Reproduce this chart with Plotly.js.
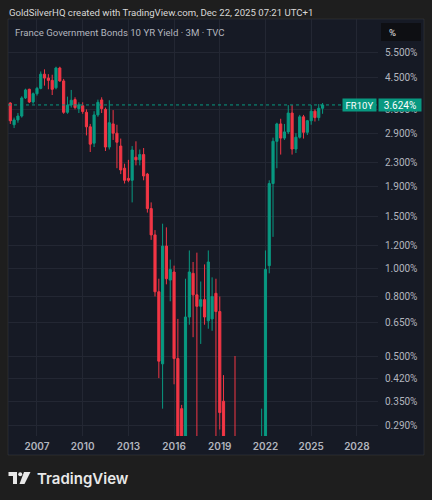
<!DOCTYPE html>
<html><head><meta charset="utf-8">
<script src="https://cdn.plot.ly/plotly-3.0.1.min.js"></script>
<style>html,body{margin:0;padding:0;background:#1e1e1e;overflow:hidden}#chart{width:432px;height:500px}</style>
</head><body><div id="chart"></div>
<script>
// ---- data (quarterly candles, % yield) ----
const quarters = [
'2005-04-01','2005-07-01','2005-10-01',
'2006-01-01','2006-04-01','2006-07-01','2006-10-01',
'2007-01-01','2007-04-01','2007-07-01','2007-10-01',
'2008-01-01','2008-04-01','2008-07-01','2008-10-01',
'2009-01-01','2009-04-01','2009-07-01','2009-10-01',
'2010-01-01','2010-04-01','2010-07-01','2010-10-01',
'2011-01-01','2011-04-01','2011-07-01','2011-10-01',
'2012-01-01','2012-04-01','2012-07-01','2012-10-01',
'2013-01-01','2013-04-01','2013-07-01','2013-10-01',
'2014-01-01','2014-04-01','2014-07-01','2014-10-01',
'2015-01-01','2015-04-01','2015-07-01','2015-10-01',
'2016-01-01','2016-04-01','2016-07-01','2016-10-01',
'2017-01-01','2017-04-01','2017-07-01','2017-10-01',
'2018-01-01','2018-04-01','2018-07-01','2018-10-01',
'2019-01-01','2019-04-01','2019-07-01','2019-10-01',
'2020-01-01','2020-04-01','2020-07-01','2020-10-01',
'2021-01-01','2021-04-01','2021-07-01','2021-10-01',
'2022-01-01','2022-04-01','2022-07-01','2022-10-01',
'2023-01-01','2023-04-01','2023-07-01','2023-10-01',
'2024-01-01','2024-04-01','2024-07-01','2024-10-01',
'2025-01-01','2025-04-01','2025-07-01','2025-10-01'];
const openV = [3.68,3.10,3.22, 3.32,3.83,4.10,3.71, 3.96,4.13,4.62,4.48, 4.40,4.15,4.85,4.38,
 3.42,3.62,3.78,3.52, 3.60,3.42,3.05,2.68, 3.35,3.77,3.50,2.60, 3.12,2.90,2.62,2.20,
 2.03,2.00,2.40,2.35, 2.45,2.10,1.60,1.30, 0.83,0.47,1.19,0.91, 0.97,0.49,0.33,0.19,
 0.68,0.96,0.81,0.74, 0.78,0.66,0.67,0.82, 0.71,0.35,-0.01,-0.28, 0.12,0.02,-0.11,-0.24,
 -0.34,-0.05,0.13,0.16, 0.20,1.02,1.95,2.72, 3.12,2.79,2.93,3.40, 2.56,2.81,3.30,2.92,
 3.20,3.45,3.28,3.53];
const highV = [3.70,3.28,3.40, 3.88,4.12,4.12,4.00, 4.18,4.72,4.80,4.62, 4.60,4.90,4.90,4.45,
 3.87,4.08,3.85,3.70, 3.70,3.50,3.12,3.45, 3.78,3.85,3.55,3.76, 3.48,3.10,2.78,2.28,
 2.35,2.62,2.72,2.55, 2.58,2.12,1.68,1.35, 0.92,1.42,1.38,1.07, 1.02,0.67,0.34,0.92,
 1.15,1.05,1.13,0.90, 1.03,1.15,0.93,0.92, 0.80,0.43,0.05,0.09, 0.50,0.24,0.00,-0.18,
 0.00,0.24,0.15,0.33, 1.15,2.00,2.80,3.15, 3.25,3.12,3.62,3.62, 2.90,3.35,3.35,3.22,
 3.62,3.50,3.65,3.68];
const lowV = [3.12,3.02,3.15, 3.28,3.80,3.68,3.66, 3.90,4.10,4.22,4.10, 3.92,4.10,4.35,3.38,
 3.38,3.55,3.50,3.40, 3.38,2.85,2.50,2.60, 3.30,3.40,2.52,2.55, 2.75,2.20,2.10,1.95,
 1.97,1.68,2.25,2.25, 2.00,1.55,1.25,0.80, 0.42,0.33,0.88,0.77, 0.40,0.10,0.05,0.10,
 0.64,0.58,0.10,0.55, 0.64,0.62,0.61,0.10, 0.28,-0.03,-0.45,-0.37, -0.38,-0.15,-0.30,-0.40,
 -0.39,-0.12,-0.17,-0.06, 0.12,0.96,1.28,2.20, 2.45,2.75,2.88,2.45, 2.48,2.78,2.78,2.86,
 3.10,3.18,3.20,3.38];
const closeV = [3.20,3.22,3.32, 3.83,4.08,3.71,3.96, 4.13,4.62,4.48,4.40, 4.10,4.85,4.38,3.42,
 3.62,3.76,3.55,3.63, 3.44,3.05,2.66,3.35, 3.70,3.52,2.60,3.15, 2.90,2.70,2.17,2.00,
 2.00,2.54,2.35,2.45, 2.07,1.60,1.30,0.83, 0.48,1.19,0.92,0.99, 0.49,0.18,0.19,0.68,
 0.97,0.81,0.74,0.78, 0.68,1.05,0.80,0.71, 0.32,-0.01,-0.28,0.12, 0.02,-0.11,-0.24,-0.34,
 -0.05,0.13,0.16,0.20, 0.99,1.95,2.72,3.12, 2.79,2.93,3.40,2.56, 2.81,3.30,2.92,3.20,
 3.45,3.28,3.53,3.624];
const yTickVals = [0.29,0.35,0.42,0.5,0.65,0.8,1.0,1.2,1.5,1.9,2.3,2.9,3.5,4.5,5.5];
const xTickYears = ['2007','2010','2013','2016','2019','2022','2025','2028'];
const symbol = 'FR10Y';
const headerText = 'GoldSilverHQ created with TradingView.com, Dec 22, 2025 07:21 UTC+1';
const titleText = 'France Government Bonds 10 YR Yield · 3M · TVC';
const unitText = '%';
const brandText = 'TradingView';

// ---- geometry helpers ----
const L = 8, R = 378, T = 19, B = 436;
const X = px => (px - L) / (R - L);
const Y = py => (B - py) / (B - T);
const P = (x, y) => X(x).toFixed(5) + ',' + Y(y).toFixed(5);
const logSafe = v => Math.max(v, 0.01); // log axis cannot show <= 0

const UP = '#089981', DOWN = '#f23645';
const FONT = 'Inter, "Noto Sans", sans-serif';
const FONT2 = 'Roboto, "Noto Sans", sans-serif';
const last = closeV[closeV.length - 1];

const trace = {
  type: 'candlestick', x: quarters,
  open: openV.map(logSafe), high: highV.map(logSafe),
  low: lowV.map(logSafe), close: closeV.map(logSafe),
  increasing: {line: {color: UP, width: 1}, fillcolor: UP},
  decreasing: {line: {color: DOWN, width: 1}, fillcolor: DOWN},
  whiskerwidth: 0, hoverinfo: 'skip', showlegend: false
};

const shapes = [
  {type: 'rect', xref: 'paper', yref: 'paper', x0: X(8), x1: X(424), y0: Y(455), y1: Y(19),
   fillcolor: '#161a25', line: {color: 'rgba(255,255,255,0.07)', width: 1}, layer: 'below'},
  {type: 'rect', xref: 'paper', yref: 'paper', x0: X(381), x1: X(421), y0: Y(41), y1: Y(23),
   fillcolor: '#0e0f13', line: {width: 0}, layer: 'above'},
  {type: 'line', xref: 'paper', yref: 'y', x0: 0, x1: 1, y0: last, y1: last,
   line: {color: UP, width: 1, dash: 'dot'}, layer: 'above'},
  // logo icon
  {type: 'path', xref: 'paper', yref: 'paper', layer: 'above', fillcolor: '#e8e8e8', line: {width: 0},
   path: 'M' + P(8.5, 472) + 'L' + P(17, 472) + 'L' + P(17, 484) + 'L' + P(13, 484) + 'L' + P(13, 476) + 'L' + P(8.5, 476) + 'Z'},
  {type: 'circle', xref: 'paper', yref: 'paper', layer: 'above', fillcolor: '#e8e8e8', line: {width: 0},
   x0: X(18.2), x1: X(22.2), y0: Y(476.2), y1: Y(472.2)},
  {type: 'path', xref: 'paper', yref: 'paper', layer: 'above', fillcolor: '#e8e8e8', line: {width: 0},
   path: 'M' + P(24, 472) + 'L' + P(30.5, 472) + 'L' + P(24.5, 484) + 'L' + P(19.5, 484) + 'Z'}
];

const annotations = [
  {xref: 'paper', yref: 'paper', x: X(7), y: Y(12), xanchor: 'left', yanchor: 'middle', showarrow: false,
   text: headerText, font: {family: FONT2, size: 9.6, color: '#d8d8d8'}},
  {xref: 'paper', yref: 'paper', x: X(13), y: Y(32), xanchor: 'left', yanchor: 'middle', showarrow: false,
   text: titleText, font: {family: FONT2, size: 9.6, color: '#b2b5be'}},
  {xref: 'paper', yref: 'paper', x: X(387), y: Y(32), xanchor: 'left', yanchor: 'middle', showarrow: false,
   text: unitText, font: {family: FONT2, size: 9.5, color: '#e0e0e0'}},
  {xref: 'paper', yref: 'paper', x: X(35), y: Y(478), xanchor: 'left', yanchor: 'middle', showarrow: false,
   text: brandText, font: {family: FONT, size: 15, color: '#e8e8e8', weight: 600}},
  {xref: 'paper', yref: 'y', x: 1, y: Math.log10(last), xanchor: 'right', yanchor: 'middle', xshift: -1,
   showarrow: false, text: symbol, width: 33, height: 12, borderpad: 0, bgcolor: UP,
   font: {family: FONT2, size: 9.5, color: '#ffffff'}},
  {xref: 'paper', yref: 'y', x: 1, y: Math.log10(last), xanchor: 'left', yanchor: 'middle',
   showarrow: false, text: last.toFixed(3) + '%', width: 42, height: 12, borderpad: 0, bgcolor: UP,
   font: {family: FONT2, size: 10, color: '#ffffff'}}
];

const layout = {
  width: 432, height: 500,
  margin: {l: L, r: 432 - R, t: T, b: 500 - B, pad: 0},
  paper_bgcolor: '#1e1e1e', plot_bgcolor: 'rgba(0,0,0,0)',
  showlegend: false, dragmode: false, boxgap: 0.18,
  xaxis: {
    type: 'date', range: ['2005-02-05', '2029-05-22'],
    tickvals: xTickYears.map(y => y + '-01-01'), ticktext: xTickYears,
    showgrid: true, gridcolor: '#232733', gridwidth: 1, zeroline: false, showline: false,
    ticks: 'outside', ticklen: 1, tickcolor: 'rgba(0,0,0,0)',
    tickfont: {family: FONT, size: 10, color: '#b2b5be', weight: 600},
    rangeslider: {visible: false}, fixedrange: true
  },
  yaxis: {
    type: 'log', side: 'right',
    range: [Math.log10(0.266), Math.log10(7.14)],
    tickvals: yTickVals, ticktext: yTickVals.map(v => v.toFixed(3) + '%'),
    showgrid: true, gridcolor: '#232733', gridwidth: 1, zeroline: false, showline: false,
    ticks: 'outside', ticklen: 4, tickcolor: 'rgba(0,0,0,0)',
    tickfont: {family: FONT2, size: 10, color: '#b2b5be'}, fixedrange: true
  },
  shapes: shapes, annotations: annotations
};

Plotly.newPlot('chart', [trace], layout, {staticPlot: true, displayModeBar: false});
</script></body></html>
